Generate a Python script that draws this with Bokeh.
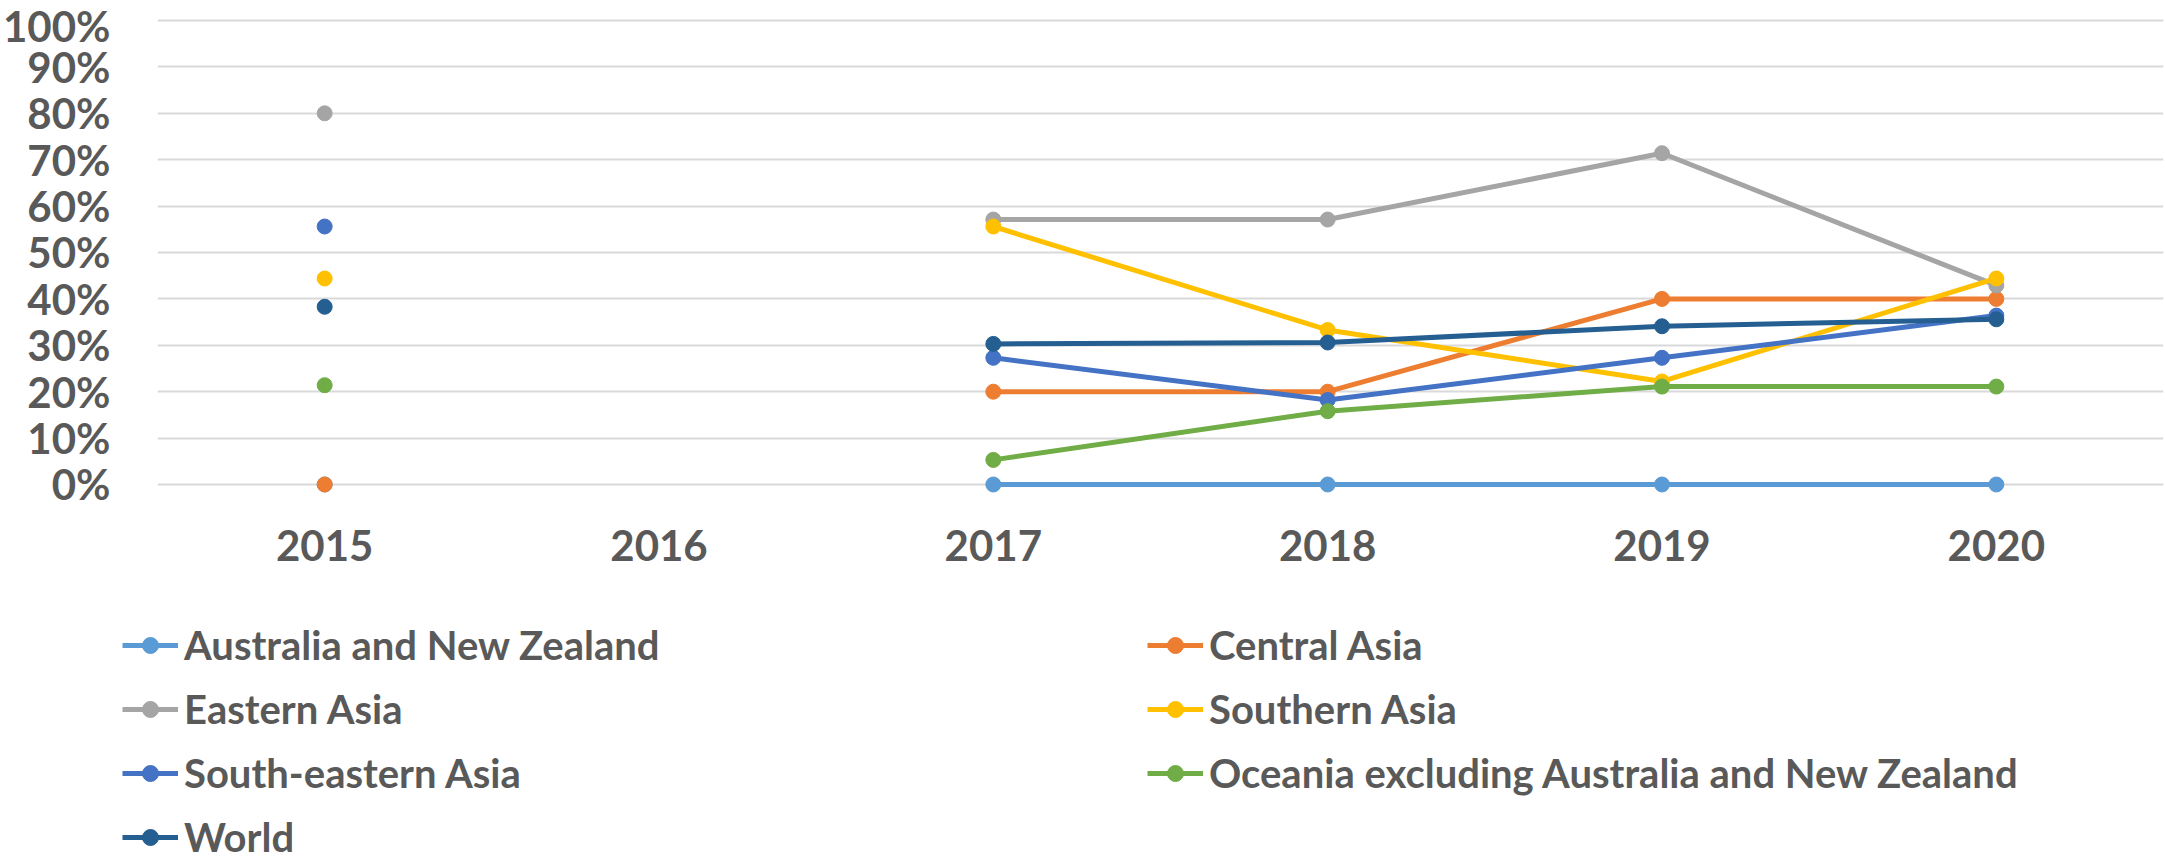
import numpy as np
from bokeh.plotting import figure
from bokeh.layouts import column
from bokeh.models import (FactorRange, Range1d, FixedTicker, NumeralTickFormatter,
                          Legend, LegendItem, ColumnDataSource)
from bokeh.embed import file_html
from bokeh.resources import INLINE

years = ["2015", "2016", "2017", "2018", "2019", "2020"]
series_names = ["Australia and New Zealand", "Central Asia", "Eastern Asia",
                "Southern Asia", "South-eastern Asia",
                "Oceania excluding Australia and New Zealand", "World"]
australia = [0.0, None, 0.0, 0.0, 0.0, 0.0]
central_asia = [0.0, None, 0.20, 0.20, 0.40, 0.40]
eastern_asia = [0.80, None, 0.571, 0.571, 0.714, 0.429]
southern_asia = [0.444, None, 0.556, 0.333, 0.222, 0.444]
south_eastern_asia = [0.556, None, 0.273, 0.182, 0.273, 0.364]
oceania = [0.214, None, 0.053, 0.158, 0.211, 0.211]
world = [0.383, None, 0.303, 0.306, 0.341, 0.356]
colors = ["#5B9BD5", "#ED7D31", "#A5A5A5", "#FFC000", "#4472C4", "#70AD47", "#255E91"]
y_ticks = [0.0, 0.1, 0.2, 0.3, 0.4, 0.5, 0.6, 0.7, 0.8, 0.9, 1.0]

all_series = [australia, central_asia, eastern_asia, southern_asia,
              south_eastern_asia, oceania, world]

TEXT = "#595959"
FONT = "Lato"

# ---- main chart ----
p = figure(width=2165, height=600, output_backend="svg", toolbar_location=None,
           x_range=FactorRange(factors=years, range_padding=0),
           y_range=Range1d(-0.0496, 1.0194),
           min_border_left=155, min_border_right=2, min_border_top=11,
           min_border_bottom=93)
p.frame_align = False
p.outline_line_color = None
p.xgrid.grid_line_color = None
p.ygrid.grid_line_color = "#D9D9D9"
p.ygrid.grid_line_width = 2
p.ygrid.ticker = FixedTicker(ticks=y_ticks)

p.yaxis.ticker = FixedTicker(ticks=y_ticks)
p.yaxis.formatter = NumeralTickFormatter(format="0%")
for ax in (p.xaxis[0], p.yaxis[0]):
    ax.axis_line_color = None
    ax.major_tick_line_color = None
    ax.minor_tick_line_color = None
    ax.major_tick_out = 0
    ax.major_tick_in = 0
    ax.major_label_text_font = FONT
    ax.major_label_text_font_style = "bold"
    ax.major_label_text_font_size = "42px"
    ax.major_label_text_color = TEXT
p.yaxis.major_label_standoff = 47
p.xaxis.major_label_standoff = 22

sources = []
for name, vals, col in zip(series_names, all_series, colors):
    y = np.array([np.nan if v is None else v for v in vals], dtype=float)
    src = ColumnDataSource(dict(x=years, y=y))
    sources.append(src)
    p.line("x", "y", source=src, line_color=col, line_width=5)
    p.scatter("x", "y", source=src, size=15, fill_color=col, line_color=col)

# ---- legend strip (its ranges keep the series out of view; only the legend shows) ----
lf = figure(width=2165, height=257, output_backend="svg", toolbar_location=None,
            x_axis_type=None, y_axis_type=None,
            x_range=FactorRange(factors=years, range_padding=0),
            y_range=Range1d(5, 6),
            min_border_left=0, min_border_right=0, min_border_top=0,
            min_border_bottom=0)
lf.frame_align = False
lf.outline_line_color = None
lf.xgrid.visible = False
lf.ygrid.visible = False

items = []
for name, src, col in zip(series_names, sources, colors):
    r1 = lf.line("x", "y", source=src, line_color=col, line_width=5)
    r2 = lf.scatter("x", "y", source=src, size=14, fill_color=col, line_color=col)
    items.append(LegendItem(label=name, renderers=[r1, r2]))

legend = Legend(items=items, orientation="horizontal", ncols=2,
                location=(122, -4),
                glyph_width=56, glyph_height=40, label_height=40,
                label_width=947, label_standoff=6, spacing=16,
                padding=0, margin=0, border_line_color=None,
                background_fill_alpha=0,
                label_text_font=FONT, label_text_font_style="bold",
                label_text_font_size="40px", label_text_color=TEXT)
lf.add_layout(legend, "center")

layout = column(p, lf, spacing=0)
open("out.html", "w").write(file_html(layout, INLINE))
